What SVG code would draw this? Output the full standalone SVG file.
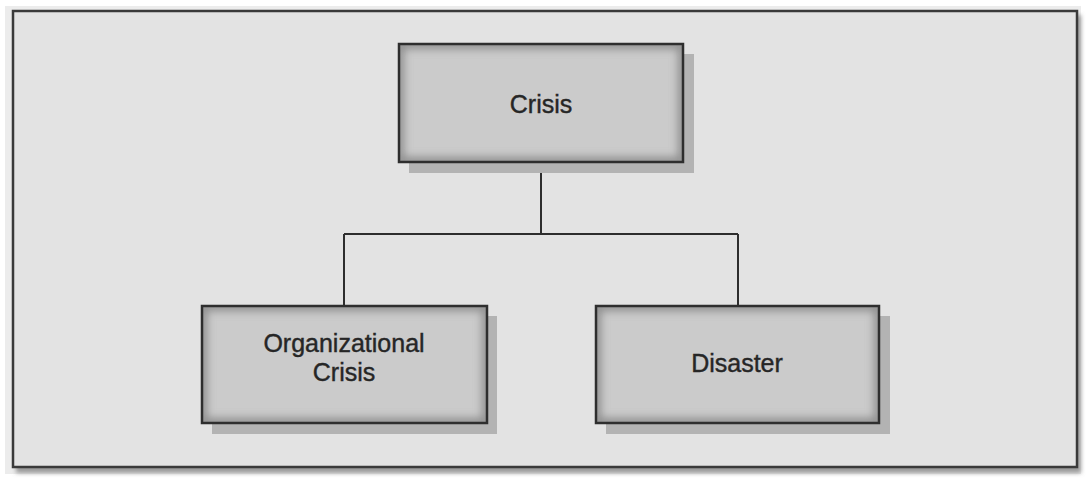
<svg xmlns="http://www.w3.org/2000/svg" width="1086" height="481" viewBox="0 0 1086 481">
  <defs>
    <filter id="blur" x="-5%" y="-5%" width="110%" height="110%">
      <feGaussianBlur stdDeviation="2"/>
    </filter>
    <filter id="soft" x="-10%" y="-10%" width="120%" height="120%">
      <feGaussianBlur stdDeviation="4"/>
    </filter>
    <clipPath id="c1"><rect x="399" y="44" width="284" height="118"/></clipPath>
    <clipPath id="c2"><rect x="202" y="306" width="285" height="117"/></clipPath>
    <clipPath id="c3"><rect x="596" y="306" width="283" height="117"/></clipPath>
  </defs>
  <style>
    .shadow { fill: #b3b3b3; }
    .fill { fill: #cbcbcb; }
    .vig { fill: none; stroke: #8e8e8e; stroke-width: 10; filter: url(#soft); }
    .edge { fill: none; stroke: #2e2e2e; stroke-width: 2.5; }
    .label { font-family: "Liberation Sans", Arial, sans-serif; font-size: 25px; fill: #262626; stroke: #262626; stroke-width: 0.4; text-anchor: middle; }
    .conn { stroke: #2e2e2e; stroke-width: 2; fill: none; }
  </style>
  <rect x="0" y="0" width="1086" height="481" fill="#ffffff"/>
  <rect x="5" y="6" width="1076" height="468" fill="#ececec"/>
  <rect x="16" y="15" width="1065" height="458" fill="#9a9a9a" filter="url(#blur)"/>
  <rect x="13" y="11" width="1064" height="456" fill="#e3e3e3" stroke="#3a3a3a" stroke-width="2.5"/>

  <g id="connectors">
    <path class="conn" d="M541,162 V234 M344,234 H738 M344,234 V306 M738,234 V306"/>
  </g>

  <g id="node-crisis">
    <rect class="shadow" x="409" y="54" width="285" height="119"/>
    <rect class="fill" x="399" y="44" width="284" height="118"/>
    <g clip-path="url(#c1)"><rect class="vig" x="399" y="44" width="284" height="118"/></g>
    <rect class="edge" x="399" y="44" width="284" height="118"/>
    <text class="label" x="541" y="113">Crisis</text>
  </g>

  <g id="node-organizational-crisis">
    <rect class="shadow" x="212" y="316" width="285" height="118"/>
    <rect class="fill" x="202" y="306" width="285" height="117"/>
    <g clip-path="url(#c2)"><rect class="vig" x="202" y="306" width="285" height="117"/></g>
    <rect class="edge" x="202" y="306" width="285" height="117"/>
    <text class="label" x="344" y="352">Organizational</text>
    <text class="label" x="344" y="381">Crisis</text>
  </g>

  <g id="node-disaster">
    <rect class="shadow" x="606" y="316" width="284" height="118"/>
    <rect class="fill" x="596" y="306" width="283" height="117"/>
    <g clip-path="url(#c3)"><rect class="vig" x="596" y="306" width="283" height="117"/></g>
    <rect class="edge" x="596" y="306" width="283" height="117"/>
    <text class="label" x="737" y="372">Disaster</text>
  </g>
</svg>
